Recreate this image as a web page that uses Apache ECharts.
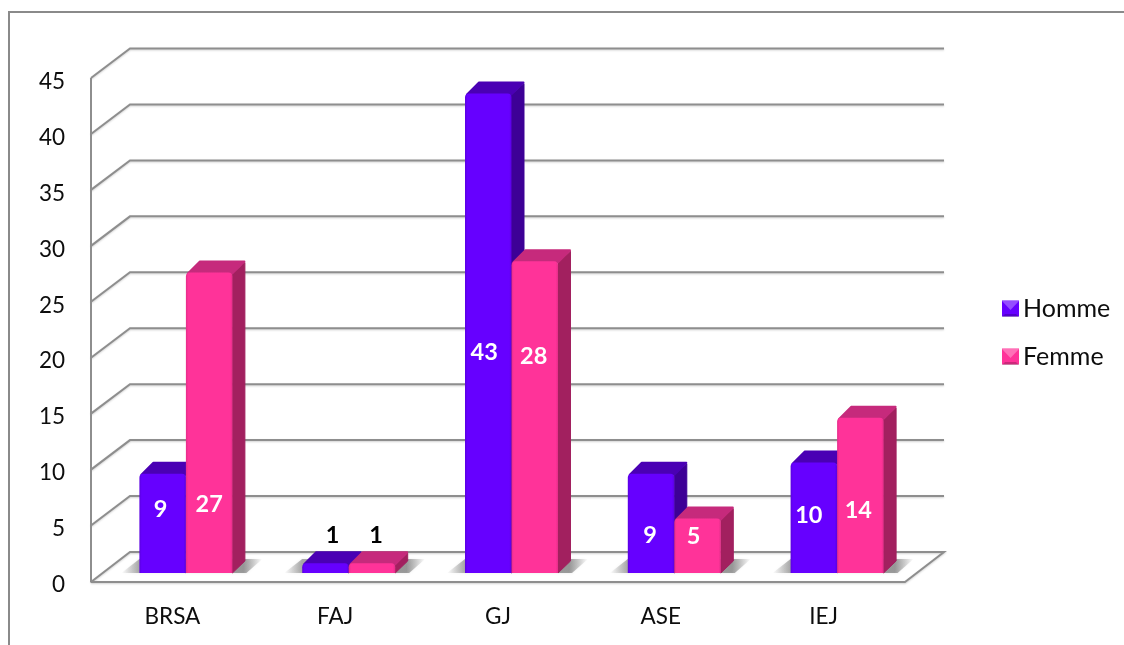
<!DOCTYPE html>
<html>
<head>
<meta charset="utf-8">
<style>html,body{margin:0;padding:0;background:#fff}#c{width:1124px;height:645px}</style>
<script src="https://cdn.jsdelivr.net/npm/echarts@6/dist/echarts.min.js"></script>
</head>
<body>
<div id="c"></div>
<script>
const categories = ['BRSA', 'FAJ', 'GJ', 'ASE', 'IEJ'];
const hommeValues = [9, 1, 43, 9, 10];
const femmeValues = [27, 1, 28, 5, 14];
const yTicks = [0, 5, 10, 15, 20, 25, 30, 35, 40, 45];
const seriesNames = ['Homme', 'Femme'];

// Hand-placed data labels in the source: [x shift from bar centre (px), level on the value axis]
const hommeLabelPlacement = [[-2, 6.4], [7, 4.08], [-4, 20.5], [-1, 4.16], [-5, 5.95]];
const femmeLabelPlacement = [[0, 6.85], [4, 4.08], [-1, 20.16], [-4, 3.99], [-2, 6.31]];

const FONT = 'Lato, Carlito, sans-serif';
const TEXT_COLOR = '#0d0d0d';
const GRID_COLOR = '#8e8e8e';
const WALL_DX = 39, WALL_DY = -29.5;       // depth of the wall
const BAR_DX = 13, BAR_DY = -12;           // depth of a bar
const BASE_LIFT = 8.5;                     // bars stand inside the floor
const BAR_SHARE = 46.5 / 162.8, BAR_START = -33 / 162.8;

const palettes = [
  { front: '#6600ff', edge: '#5a00e0', top: '#4a00b4', side: '#3d0096' },
  { front: '#ff3399', edge: '#e52d8a', top: '#c62a7c', side: '#a2205f' }
];

function gridlineItem(params, api) {
  const v = api.value(0);
  const y = api.coord([0, v])[1];
  const r = params.coordSys;
  const x0 = r.x, x1 = r.x + r.width;
  const style = { stroke: GRID_COLOR, lineWidth: 2, fill: null,
    shadowColor: 'rgba(0,0,0,0.18)', shadowBlur: 2, shadowOffsetY: 1 };
  const pts = v === 0
    ? [[x0, y + 0.5], [x1, y + 0.5], [x1 + WALL_DX, y + WALL_DY], [x0 + WALL_DX, y + WALL_DY], [x0, y + 0.5]]
    : [[x0, y], [x0 + WALL_DX, y + WALL_DY], [x1 + WALL_DX, y + WALL_DY]];
  const children = [{ type: 'polyline', shape: { points: pts }, style }];
  if (v === yTicks[yTicks.length - 1]) {
    const y0 = api.coord([0, 0])[1];
    children.push({ type: 'line', shape: { x1: x0, y1: y, x2: x0, y2: y0 + 1 },
      style: { stroke: GRID_COLOR, lineWidth: 2 } });
  }
  return { type: 'group', children };
}

function floorShadowItem(params, api) {
  const p = api.coord([api.value(0), 0]);
  const band = api.size([1, 0])[0];
  const w = band * BAR_SHARE;
  const L = p[0] + band * BAR_START, R = L + 2 * w;
  const base = p[1] - BASE_LIFT;
  const xa = L - 18, xb = R + 32;
  const span = xb - xa;
  return {
    type: 'polygon',
    shape: { points: [[xa, base], [L, base - 14], [R + 30, base - 14], [R + 14, base]] },
    style: { fill: new echarts.graphic.LinearGradient(0, 0, 1, 0, [
      { offset: 0, color: 'rgba(70,70,70,0)' },
      { offset: (L - xa) / span, color: 'rgba(70,70,70,0.42)' },
      { offset: (R + 13 - xa) / span, color: 'rgba(70,70,70,0.5)' },
      { offset: 1, color: 'rgba(70,70,70,0)' }
    ]), shadowColor: 'rgba(70,70,70,0.25)', shadowBlur: 3 }
  };
}

function barRenderer(si, placement) {
  return function (params, api) {
    const i = api.value(0), v = api.value(1);
    const c = palettes[si];
    const p0 = api.coord([i, 0]), p1 = api.coord([i, v]);
    const band = api.size([1, 0])[0];
    const w = band * BAR_SHARE;
    const x = p0[0] + band * BAR_START + si * w;
    const base = p0[1] - BASE_LIFT;
    const top = p1[1] - BASE_LIFT + 1.5;
    const dx = BAR_DX, dy = BAR_DY;
    const place = placement[i];
    return {
      type: 'group',
      children: [
        { type: 'polygon', shape: { points: [[x + w, top + 1], [x + w + dx - 0.5, top + dy + 2], [x + w + dx - 0.5, base + dy], [x + w, base]] },
          style: { fill: c.side, stroke: c.side, lineWidth: 1, lineJoin: 'round' } },
        { type: 'polygon', shape: { points: [[x + 2, top + 1], [x + dx + 1, top + dy + 1], [x + w + dx - 1, top + dy + 1], [x + w, top + 1]] },
          style: { fill: c.top, stroke: c.top, lineWidth: 2, lineJoin: 'round' } },
        { type: 'rect', shape: { x: x, y: top, width: w, height: base - top, r: [4, 4, 0, 0] },
          style: { fill: new echarts.graphic.LinearGradient(0, 0, 1, 0, [
            { offset: 0, color: c.edge }, { offset: 0.05, color: c.front },
            { offset: 0.95, color: c.front }, { offset: 1, color: c.edge }
          ]) } },
        { type: 'text', z2: 10,
          style: { text: String(v), x: x + w / 2 + place[0], y: api.coord([i, place[1]])[1],
            align: 'center', verticalAlign: 'middle', font: 'bold 23.5px ' + FONT,
            fill: v <= 1 ? '#000000' : '#ffffff' } }
      ]
    };
  };
}

function legendBevel(x, y) {
  const s = 17, h = 16, m = 3;
  return [
    { type: 'polygon', z: 100, shape: { points: [[x, y], [x + s, y], [x + s / 2, y + h / 2 + 1]] },
      style: { fill: 'rgba(255,255,255,0.3)' }, silent: true },
    { type: 'polygon', z: 100, shape: { points: [[x, y + h], [x + s, y + h], [x + s - m, y + h - m], [x + m, y + h - m]] },
      style: { fill: 'rgba(0,0,0,0.2)' }, silent: true }
  ];
}

const chart = echarts.init(document.getElementById('c'), null, { renderer: 'canvas' });
chart.setOption({
  backgroundColor: '#ffffff',
  animation: false,
  legend: {
    orient: 'vertical', left: 1002, top: 296, padding: 0,
    data: seriesNames, icon: 'rect', itemWidth: 17, itemHeight: 16, itemGap: 23,
    selectedMode: false,
    textStyle: { fontFamily: FONT, fontSize: 25, lineHeight: 25, color: TEXT_COLOR, padding: [0, 0, 0, -1] }
  },
  grid: { left: 91, top: 78, width: 814, height: 503.5 },
  xAxis: {
    type: 'category', data: categories,
    axisLine: { show: false }, axisTick: { show: false }, splitLine: { show: false },
    axisLabel: { margin: 24, fontFamily: FONT, fontSize: 22.5, color: TEXT_COLOR }
  },
  yAxis: {
    type: 'value', min: 0, max: 45, interval: 5,
    axisLine: { show: false }, axisTick: { show: false }, splitLine: { show: false },
    axisLabel: { margin: 26, fontFamily: FONT, fontSize: 22.5, color: TEXT_COLOR, verticalAlign: 'top', lineHeight: 7 }
  },
  graphic: [
    { type: 'polyline', z: -1, shape: { points: [[9, 646], [9, 12], [1125, 12]] },
      style: { stroke: '#8a8a8a', lineWidth: 2, fill: null }, silent: true },
    ...legendBevel(1002, 301), ...legendBevel(1002, 349)
  ],
  series: [
    { type: 'custom', name: 'grid', z: 1, clip: false, coordinateSystem: 'cartesian2d',
      encode: { x: 1, y: 0 }, data: yTicks.map(v => [v, 0]), renderItem: gridlineItem, silent: true },
    { type: 'custom', name: 'floor', z: 2, clip: false, coordinateSystem: 'cartesian2d',
      encode: { x: 0, y: 1 }, data: categories.map((c, i) => [i, 0]), renderItem: floorShadowItem, silent: true },
    { type: 'custom', name: seriesNames[0], z: 3, clip: false, itemStyle: { color: palettes[0].front },
      encode: { x: 0, y: 1 }, data: hommeValues.map((v, i) => [i, v]), renderItem: barRenderer(0, hommeLabelPlacement) },
    { type: 'custom', name: seriesNames[1], z: 4, clip: false, itemStyle: { color: palettes[1].front },
      encode: { x: 0, y: 1 }, data: femmeValues.map((v, i) => [i, v]), renderItem: barRenderer(1, femmeLabelPlacement) }
  ]
});
</script>
</body>
</html>
